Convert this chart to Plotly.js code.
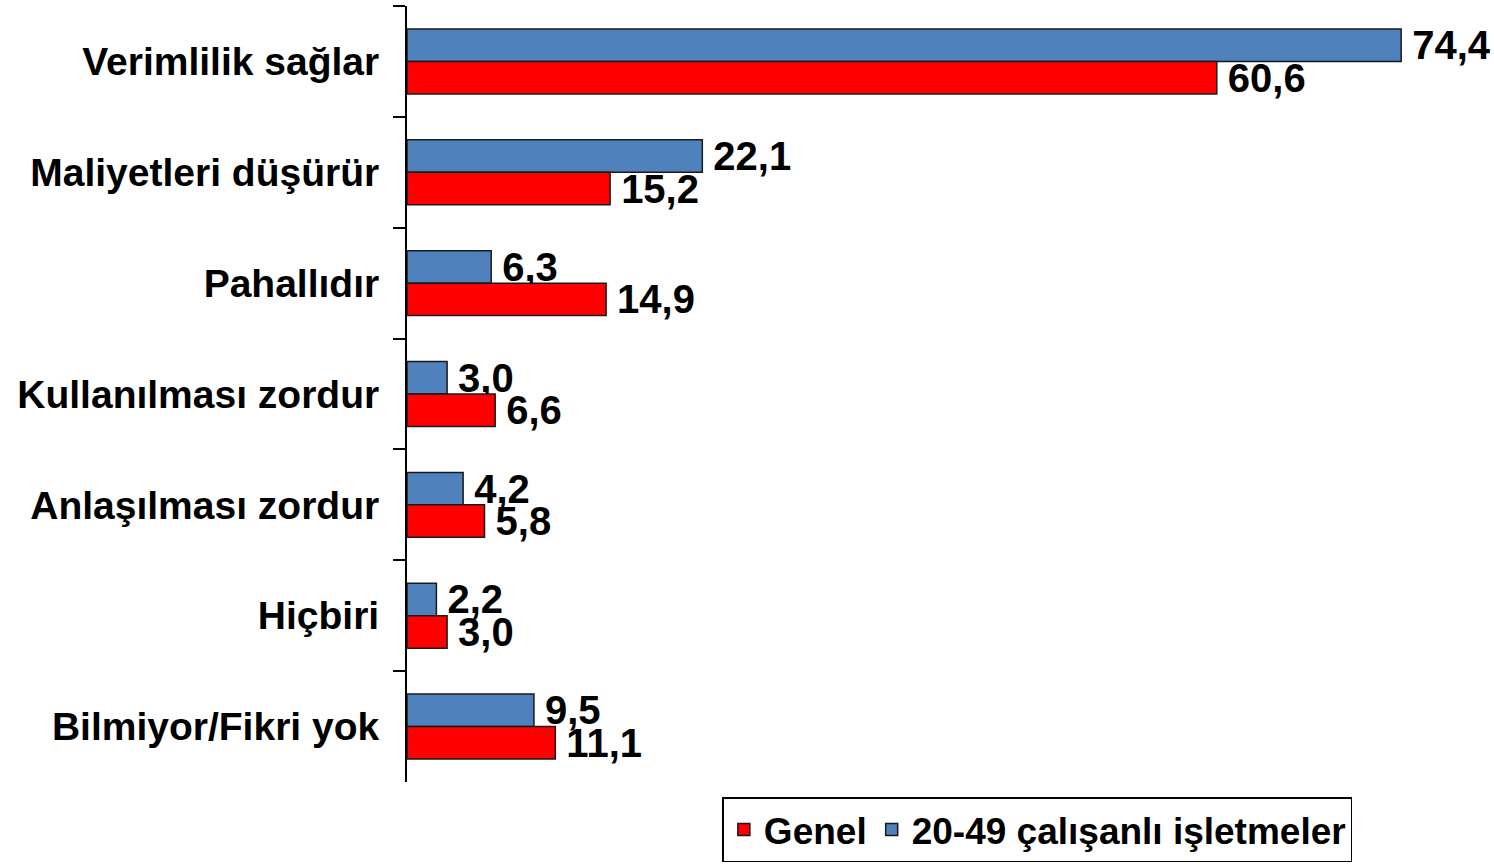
<!DOCTYPE html>
<html>
<head>
<meta charset="utf-8">
<script src="https://cdn.plot.ly/plotly-3.0.1.min.js"></script>
<style>html,body{margin:0;padding:0;background:#fff;}#chart{width:1494px;height:865px;}</style>
</head>
<body>
<div id="chart"></div>
<script>
const categories = ["Verimlilik sağlar", "Maliyetleri düşürür", "Pahallıdır", "Kullanılması zordur", "Anlaşılması zordur", "Hiçbiri", "Bilmiyor/Fikri yok"];
const firms2049 = [74.4, 22.1, 6.3, 3.0, 4.2, 2.2, 9.5];
const genel = [60.6, 15.2, 14.9, 6.6, 5.8, 3.0, 11.1];
const seriesNames = ["20-49 çalışanlı işletmeler", "Genel"];

const FONT = "Liberation Sans, Arial, sans-serif";
const labelFont = {family: FONT, size: 40, color: "#000", weight: "bold"};

const traces = [
  {
    type: "bar", orientation: "h", name: seriesNames[0],
    y: categories, x: firms2049,
    marker: {color: "#4F81BD", line: {color: "#1a1a1a", width: 1.5}},
    texttemplate: "\u2009<b>%{x:.1f}</b>", textposition: "outside",
    textfont: labelFont, constraintext: "none", cliponaxis: false
  },
  {
    type: "bar", orientation: "h", name: seriesNames[1],
    y: categories, x: genel,
    marker: {color: "#FF0000", line: {color: "#1a1a1a", width: 1.5}},
    texttemplate: "\u2009<b>%{x:.1f}</b>", textposition: "outside",
    textfont: labelFont, constraintext: "none", cliponaxis: false
  }
];

const layout = {
  width: 1494, height: 865,
  margin: {l: 407, r: 18, t: 6, b: 83, autoexpand: false},
  paper_bgcolor: "#fff", plot_bgcolor: "#fff",
  separators: ",.",
  barmode: "group", bargap: 0.414, bargroupgap: 0,
  font: {family: FONT, color: "#000"},
  xaxis: {range: [0, 80], visible: false, fixedrange: true},
  yaxis: {
    type: "category", autorange: "reversed",
    showline: true, linecolor: "#000", linewidth: 2,
    ticks: "outside", ticklen: 12, tickwidth: 2, tickcolor: "#000",
    tickson: "boundaries", showgrid: false, zeroline: false,
    ticklabelstandoff: 18,
    tickfont: {family: FONT, size: 39, color: "#000", weight: "bold"}
  },
  showlegend: true,
  legend: {
    orientation: "h", traceorder: "reversed",
    xref: "paper", x: 0.295, xanchor: "left",
    yref: "container", y: 0.003, yanchor: "bottom",
    bgcolor: "#fff", bordercolor: "#000", borderwidth: 1.5,
    font: {family: FONT, size: 37, color: "#000", weight: "bold"},
    itemwidth: 30
  }
};

Plotly.newPlot("chart", traces, layout, {displayModeBar: false, staticPlot: true});
</script>
</body>
</html>
